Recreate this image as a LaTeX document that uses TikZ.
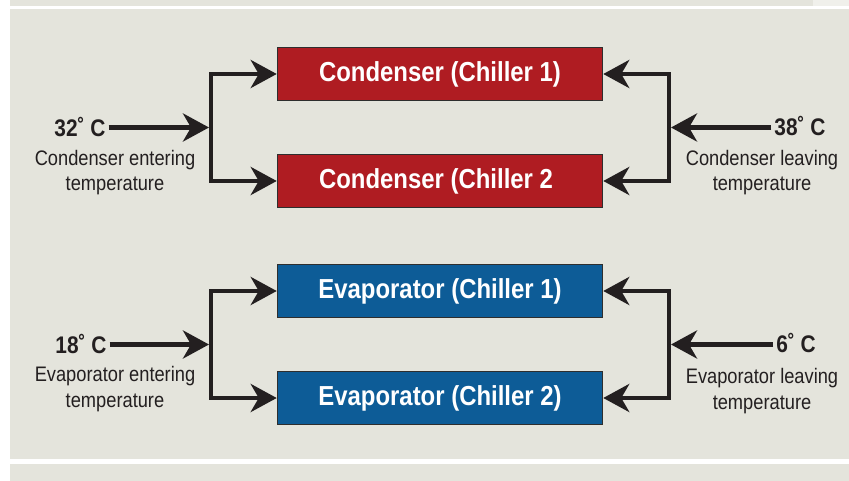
\documentclass[tikz,border=0pt]{standalone}
\usepackage{fontspec}
\setmainfont{Liberation Sans}[FakeStretch=0.87]
\usetikzlibrary{arrows.meta}
\definecolor{panel}{HTML}{E4E4DC}
\definecolor{panelhi}{HTML}{F0F0EB}
\definecolor{condred}{HTML}{AF1C22}
\definecolor{evapblue}{HTML}{0D5C97}
\definecolor{ink}{HTML}{231F20}
\definecolor{boxline}{HTML}{2E2E2E}
\tikzset{
  unitbox/.style={draw=boxline, line width=1.5pt, minimum width=325pt, minimum height=53pt,
    inner sep=0pt, text=white, font=\fontsize{27.5}{30}\selectfont\bfseries},
  condbox/.style={unitbox, fill=condred},
  evapbox/.style={unitbox, fill=evapblue},
  temphead/.style={anchor=base, inner sep=3pt, text=ink, font=\fontsize{24}{28}\selectfont\bfseries},
  templabel/.style={anchor=base, inner sep=0pt, align=center, text=ink, font=\fontsize{21}{25.5}\selectfont},
  flow/.style={draw=ink, line width=4.5pt, line join=miter,
    -{Stealth[length=26pt, width=28pt, inset=8pt]}},
}
\begin{document}
\begin{tikzpicture}[x=1pt,y=-1pt]
\useasboundingbox (0,0) rectangle (849,481);
\fill[white] (0,0) rectangle (849,481);
\fill[panel] (10,0) rectangle (813,6);
\fill[panelhi] (813,0) rectangle (849,6);
\fill[panel] (10,9) rectangle (849,459);
\fill[panel] (10,464) rectangle (849,481);

% units
\node[condbox] (c1) at (440,74) {Condenser (Chiller 1)};
\node[condbox] (c2) at (440,181) {Condenser (Chiller 2\phantom{)}};
\node[evapbox] (e1) at (440,291) {Evaporator (Chiller 1)};
\node[evapbox] (e2) at (440,398) {Evaporator (Chiller 2)};

% temperatures
\node[temphead] (t32) at (80,137) {32˚ C};
\node[templabel] (l32) at (115,191) {Condenser entering\\temperature};
\node[temphead] (t38) at (800,136) {38˚ C};
\node[templabel] (l38) at (762,191) {Condenser leaving\\temperature};
\node[temphead] (t18) at (81,353) {18˚ C};
\node[templabel] (l18) at (115,407) {Evaporator entering\\temperature};
\node[temphead] (t6) at (796,352) {6˚ C};
\node[templabel] (l6) at (762,409) {Evaporator leaving\\temperature};

% junctions
\coordinate (jL1) at (211,127.5);
\coordinate (jL1in) at (209,127.5);
\coordinate (jR1) at (669,127.5);
\coordinate (jR1in) at (671,127.5);
\coordinate (jL2) at (211,344.5);
\coordinate (jL2in) at (209,344.5);
\coordinate (jR2) at (669,344.5);
\coordinate (jR2in) at (671,344.5);

% condenser flows
\draw[flow] (t32.east |- jL1) -- (jL1in);
\draw[flow] (jL1) |- (c1.west);
\draw[flow] (jL1) |- (c2.west);
\draw[flow] (t38.west |- jR1) -- (jR1in);
\draw[flow] (jR1) |- (c1.east);
\draw[flow] (jR1) |- (c2.east);

% evaporator flows
\draw[flow] (t18.east |- jL2) -- (jL2in);
\draw[flow] (jL2) |- (e1.west);
\draw[flow] (jL2) |- (e2.west);
\draw[flow] (t6.west |- jR2) -- (jR2in);
\draw[flow] (jR2) |- (e1.east);
\draw[flow] (jR2) |- (e2.east);
\end{tikzpicture}
\end{document}
